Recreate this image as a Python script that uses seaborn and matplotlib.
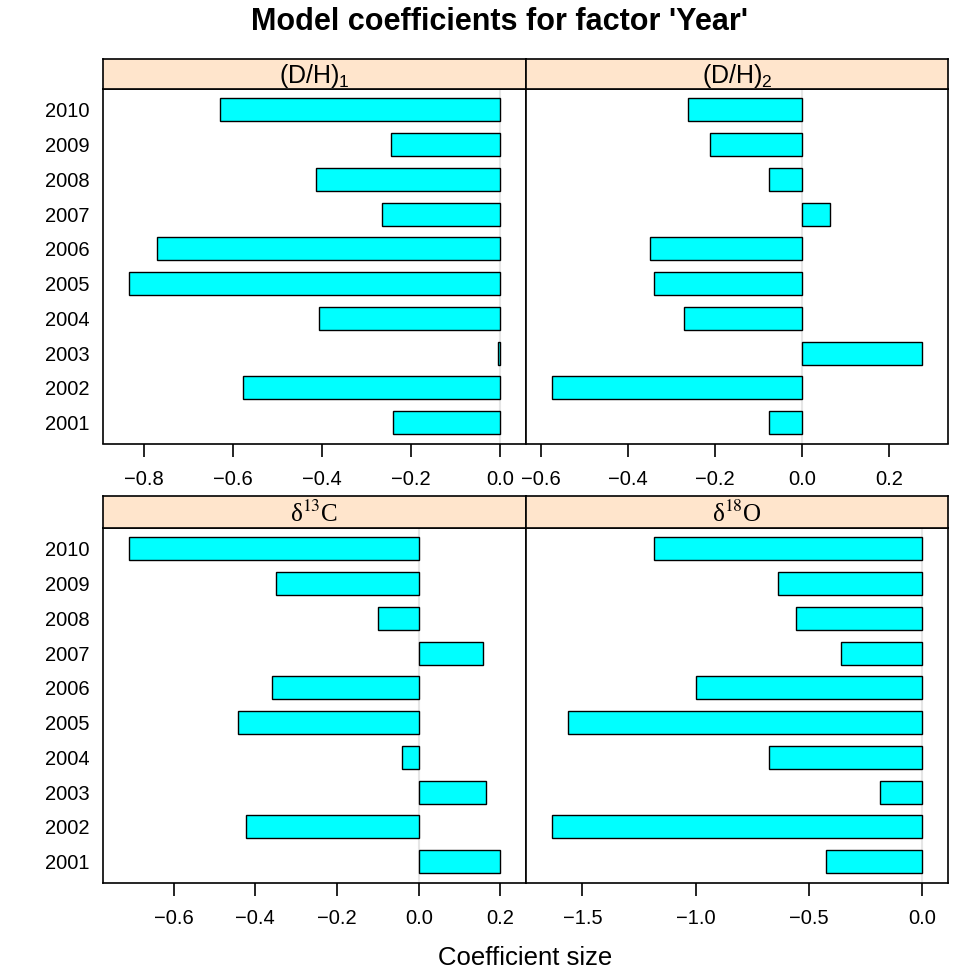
import matplotlib
matplotlib.use("Agg")
import matplotlib.pyplot as plt
import numpy as np
import pandas as pd
import seaborn as sns
from matplotlib.ticker import MultipleLocator, FuncFormatter

# Year coefficients for each response variable (first entry in each list = 2010)
years = ["2010", "2009", "2008", "2007", "2006", "2005", "2004", "2003", "2002", "2001"]
dh1 = [-0.629, -0.244, -0.414, -0.265, -0.770, -0.834, -0.406, -0.004, -0.578, -0.240]
dh2 = [-0.263, -0.212, -0.077, 0.063, -0.350, -0.340, -0.271, 0.275, -0.574, -0.077]
d13c = [-0.709, -0.349, -0.099, 0.157, -0.360, -0.443, -0.040, 0.164, -0.423, 0.199]
d18o = [-1.184, -0.635, -0.559, -0.360, -1.000, -1.565, -0.676, -0.185, -1.635, -0.425]

panel_labels = [r"(D/H)$_1$", r"(D/H)$_2$", "δ$^{13}$C", "δ$^{18}$O"]
panel_fonts = ["Liberation Sans", "Liberation Sans", "Liberation Serif", "Liberation Serif"]
panel_math = ["custom", "custom", "stix", "stix"]
panel_steps = [0.2, 0.2, 0.2, 0.5]
panel_values = [dh1, dh2, d13c, d18o]

sns.set_theme(style="white")
plt.rcParams["font.family"] = ["Liberation Sans", "DejaVu Sans"]
plt.rcParams["mathtext.fontset"] = "custom"
plt.rcParams["mathtext.rm"] = "Liberation Sans"
plt.rcParams["mathtext.it"] = "Liberation Sans:italic"
plt.rcParams["mathtext.bf"] = "Liberation Sans:bold"
plt.rcParams["mathtext.default"] = "rm"

W, H = 970, 976
fig = plt.figure(figsize=(W / 100, H / 100), dpi=100)
fig.patch.set_facecolor("white")

# panel rectangles in pixels: columns (left, right); rows (plot_top, plot_bottom, strip_top)
cols = [(103, 526), (526, 948)]
rows = [(89, 443.5, 59), (528, 882.5, 496)]


def fmt(v, _):
    s = f"{v:.1f}"
    if s in ("-0.0", "0.0"):
        return "0.0"
    return s.replace("-", "\u2212")


for i, (label, vals, step) in enumerate(zip(panel_labels, panel_values, panel_steps)):
    r, c = divmod(i, 2)
    x0, x1 = cols[c]
    ptop, pbot, stop = rows[r]
    ax = fig.add_axes([x0 / W, 1 - pbot / H, (x1 - x0) / W, (pbot - ptop) / H])
    sax = fig.add_axes([x0 / W, 1 - ptop / H, (x1 - x0) / W, (ptop - stop) / H])

    df = pd.DataFrame({"Year": years, "Coefficient": vals})
    ax.axvline(0, color="#e6e6e6", lw=1.5, zorder=0)
    sns.barplot(data=df, x="Coefficient", y="Year", order=years, orient="h",
                color="#00FFFF", saturation=1, edgecolor="black", linewidth=1.0,
                width=2 / 3, errorbar=None, ax=ax, zorder=2)

    lo = min(0.0, min(vals))
    hi = max(0.0, max(vals))
    pad = 0.07 * (hi - lo)
    ax.set_xlim(lo - pad, hi + pad)
    ax.set_ylim(len(years) - 1 + 0.6, -0.6)
    ax.xaxis.set_major_locator(MultipleLocator(step))
    ax.xaxis.set_major_formatter(FuncFormatter(fmt))
    ax.set_xlabel("")
    ax.set_ylabel("")
    ax.tick_params(axis="x", bottom=True, direction="out", length=9, width=1.2,
                   color="black", labelsize=14.5, labelcolor="black", pad=10)
    ax.tick_params(axis="y", left=False, length=0, labelsize=14.5,
                   labelcolor="black", pad=9.4)
    if c == 1:
        ax.tick_params(axis="y", labelleft=False)
    for sp in ax.spines.values():
        sp.set_visible(True)
        sp.set_color("black")
        sp.set_linewidth(1.2)
    ax.set_facecolor("white")

    sax.set_facecolor("#ffe5cc")
    sax.set_xticks([])
    sax.set_yticks([])
    for sp in sax.spines.values():
        sp.set_visible(True)
        sp.set_color("black")
        sp.set_linewidth(1.2)
    t = sax.text(0.5, 0.45, label, ha="center", va="center", fontsize=18,
                 color="black", family=[panel_fonts[i], "DejaVu Sans"],
                 transform=sax.transAxes)
    t.set_math_fontfamily(panel_math[i])

fig.text(500 / W, 1 - 22 / H, "Model coefficients for factor 'Year'",
         ha="center", va="center", fontsize=22, fontweight="bold", color="black")
fig.text(525 / W, 1 - 958 / H, "Coefficient size", ha="center", va="center",
         fontsize=18.5, color="black")

fig.savefig("out.png", dpi=100, facecolor="white")
